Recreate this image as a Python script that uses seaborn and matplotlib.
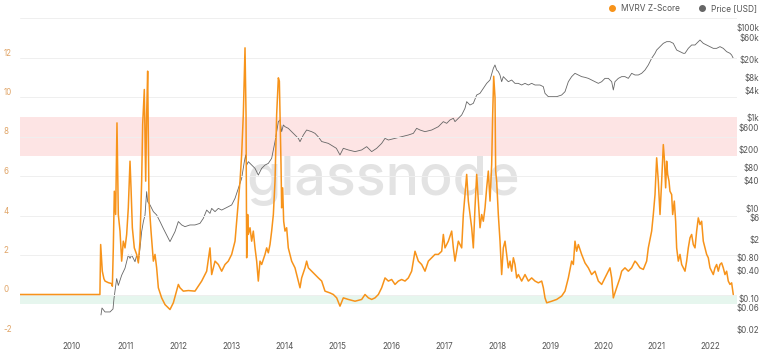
import seaborn as sns
import matplotlib.pyplot as plt
from matplotlib.lines import Line2D
from matplotlib.patches import Rectangle
from matplotlib.ticker import NullLocator
from matplotlib.transforms import blended_transform_factory


# MVRV Z-Score (decimal year, score)
mvrv_t = [
    2009.010, 2010.525, 2010.539, 2010.570, 2010.600, 2010.621, 2010.683, 2010.746, 2010.759, 2010.777,
    2010.796, 2010.821, 2010.846, 2010.871, 2010.903, 2010.934, 2010.965, 2010.997, 2011.028, 2011.059,
    2011.091, 2011.110, 2011.135, 2011.172, 2011.216, 2011.248, 2011.279, 2011.310, 2011.329, 2011.360,
    2011.386, 2011.404, 2011.423, 2011.448, 2011.486, 2011.530, 2011.561, 2011.592, 2011.624, 2011.686,
    2011.749, 2011.812, 2011.843, 2011.906, 2012.000, 2012.031, 2012.094, 2012.188, 2012.313, 2012.439,
    2012.533, 2012.595, 2012.627, 2012.690, 2012.752, 2012.815, 2012.878, 2012.940, 2013.003, 2013.066,
    2013.097, 2013.128, 2013.160, 2013.191, 2013.222, 2013.254, 2013.273, 2013.285, 2013.304, 2013.316,
    2013.348, 2013.379, 2013.410, 2013.442, 2013.473, 2013.504, 2013.536, 2013.567, 2013.630, 2013.661,
    2013.692, 2013.724, 2013.755, 2013.787, 2013.818, 2013.849, 2013.881, 2013.900, 2013.912, 2013.931,
    2013.943, 2013.962, 2013.981, 2014.006, 2014.037, 2014.068, 2014.100, 2014.131, 2014.194, 2014.257,
    2014.288, 2014.319, 2014.382, 2014.413, 2014.445, 2014.507, 2014.570, 2014.633, 2014.696, 2014.758,
    2014.852, 2014.915, 2014.978, 2015.040, 2015.103, 2015.197, 2015.323, 2015.448, 2015.511, 2015.574,
    2015.636, 2015.699, 2015.762, 2015.824, 2015.887, 2015.950, 2016.012, 2016.075, 2016.138, 2016.200,
    2016.263, 2016.326, 2016.388, 2016.451, 2016.514, 2016.576, 2016.639, 2016.702, 2016.765, 2016.827,
    2016.890, 2016.953, 2016.984, 2017.015, 2017.078, 2017.141, 2017.172, 2017.203, 2017.266, 2017.329,
    2017.360, 2017.391, 2017.423, 2017.454, 2017.485, 2017.517, 2017.548, 2017.579, 2017.611, 2017.642,
    2017.674, 2017.705, 2017.736, 2017.768, 2017.799, 2017.830, 2017.862, 2017.893, 2017.912, 2017.931,
    2017.956, 2017.968, 2017.987, 2018.018, 2018.050, 2018.081, 2018.112, 2018.144, 2018.175, 2018.206,
    2018.238, 2018.269, 2018.301, 2018.332, 2018.363, 2018.395, 2018.457, 2018.520, 2018.583, 2018.645,
    2018.708, 2018.771, 2018.834, 2018.865, 2018.896, 2018.928, 2019.022, 2019.116, 2019.209, 2019.272,
    2019.335, 2019.397, 2019.429, 2019.460, 2019.491, 2019.523, 2019.585, 2019.648, 2019.711, 2019.773,
    2019.836, 2019.899, 2019.962, 2020.024, 2020.087, 2020.118, 2020.150, 2020.181, 2020.243, 2020.306,
    2020.338, 2020.400, 2020.463, 2020.525, 2020.588, 2020.620, 2020.682, 2020.745, 2020.808, 2020.839,
    2020.902, 2020.933, 2020.965, 2020.996, 2021.027, 2021.059, 2021.090, 2021.121, 2021.140, 2021.165,
    2021.184, 2021.203, 2021.228, 2021.246, 2021.278, 2021.297, 2021.328, 2021.353, 2021.372, 2021.403,
    2021.435, 2021.466, 2021.497, 2021.529, 2021.560, 2021.591, 2021.623, 2021.654, 2021.685, 2021.717,
    2021.748, 2021.779, 2021.811, 2021.842, 2021.873, 2021.905, 2021.936, 2021.967, 2021.999, 2022.030,
    2022.061, 2022.093, 2022.124, 2022.155, 2022.187, 2022.218, 2022.249, 2022.281, 2022.312, 2022.343,
    2022.375, 2022.406, 2022.437,
]
mvrv_z = [
    0.00, 0.00, 2.53, 1.18, 0.80, 0.68, 0.60, 0.55, 0.42, 2.36,
    5.23, 4.05, 8.69, 4.05, 3.21, 1.69, 2.70, 2.36, 3.04, 4.39,
    6.75, 5.40, 3.38, 2.36, 2.03, 1.60, 2.70, 5.74, 8.61, 10.38,
    5.74, 9.11, 11.31, 4.73, 3.21, 1.69, 2.03, 1.35, 0.34, -0.17,
    -0.51, -0.68, -0.76, -0.42, 0.51, 0.34, 0.17, 0.20, 0.17, 0.68,
    1.18, 2.36, 1.01, 1.69, 1.52, 1.18, 1.52, 1.69, 2.03, 2.70,
    3.71, 4.73, 5.74, 7.09, 9.11, 12.49, 9.11, 1.86, 4.05, 3.04,
    3.38, 2.70, 3.21, 2.36, 1.69, 0.68, 1.69, 1.52, 2.03, 2.36,
    2.11, 2.53, 3.21, 4.05, 5.74, 9.11, 10.97, 10.80, 9.11, 6.58,
    4.39, 5.40, 3.71, 3.21, 3.38, 2.36, 2.03, 1.69, 1.35, 0.68,
    0.34, 0.84, 1.35, 1.69, 1.35, 1.18, 1.00, 0.84, 0.68, 0.17,
    0.08, 0.00, -0.17, -0.59, -0.17, -0.25, -0.34, -0.25, 0.00, -0.17,
    -0.25, -0.17, 0.00, 0.34, 0.84, 0.68, 0.76, 0.51, 0.68, 0.76,
    0.68, 0.84, 1.18, 2.19, 1.69, 1.52, 1.18, 1.69, 1.86, 2.03,
    2.03, 2.19, 3.04, 2.36, 2.70, 3.21, 2.36, 1.69, 2.70, 2.36,
    4.05, 5.06, 6.08, 4.73, 4.05, 3.38, 2.36, 4.39, 6.08, 4.73,
    3.38, 4.05, 3.71, 4.39, 5.40, 6.25, 4.73, 6.58, 9.11, 11.05,
    9.96, 6.25, 5.74, 4.05, 2.70, 1.01, 2.36, 2.70, 2.03, 1.35,
    1.69, 1.18, 1.86, 1.52, 0.84, 1.01, 0.68, 1.01, 0.68, 0.84,
    0.68, 0.59, 0.68, 0.34, -0.17, -0.42, -0.34, -0.25, -0.08, 0.17,
    0.84, 1.69, 1.52, 2.70, 2.19, 2.53, 2.03, 1.60, 1.35, 1.01,
    1.18, 0.68, 0.51, 0.84, 1.18, 1.35, 0.84, -0.17, 0.34, 0.84,
    1.18, 1.35, 1.18, 1.35, 1.69, 1.60, 1.35, 1.27, 1.69, 2.36,
    3.21, 4.05, 5.06, 6.92, 5.74, 4.05, 5.74, 7.59, 6.92, 5.40,
    6.75, 6.08, 5.74, 5.23, 5.06, 4.05, 4.73, 3.71, 2.36, 1.69,
    2.03, 1.52, 1.35, 1.18, 1.69, 2.36, 2.87, 3.04, 2.53, 2.36,
    3.21, 3.88, 3.54, 3.71, 2.70, 2.36, 2.03, 1.86, 1.35, 1.18,
    1.01, 1.35, 1.52, 1.18, 1.52, 1.60, 1.35, 1.01, 1.18, 0.68,
    0.51, 0.59, 0.00,
]

# BTC price in USD
price_t = [
    2010.545, 2010.564, 2010.621, 2010.715, 2010.771, 2010.790, 2010.840, 2010.871, 2010.934, 2010.997,
    2011.059, 2011.091, 2011.122, 2011.153, 2011.185, 2011.216, 2011.248, 2011.279, 2011.310, 2011.342,
    2011.373, 2011.404, 2011.423, 2011.467, 2011.530, 2011.592, 2011.655, 2011.718, 2011.780, 2011.843,
    2011.874, 2011.937, 2012.000, 2012.063, 2012.125, 2012.219, 2012.313, 2012.407, 2012.470, 2012.533,
    2012.595, 2012.627, 2012.690, 2012.752, 2012.815, 2012.878, 2012.940, 2013.003, 2013.066, 2013.128,
    2013.191, 2013.241, 2013.266, 2013.285, 2013.316, 2013.379, 2013.442, 2013.504, 2013.567, 2013.630,
    2013.692, 2013.755, 2013.818, 2013.881, 2013.912, 2013.943, 2013.975, 2014.006, 2014.068, 2014.131,
    2014.194, 2014.257, 2014.288, 2014.351, 2014.413, 2014.507, 2014.570, 2014.633, 2014.696, 2014.821,
    2014.972, 2015.040, 2015.103, 2015.197, 2015.323, 2015.448, 2015.542, 2015.636, 2015.730, 2015.824,
    2015.887, 2015.950, 2016.075, 2016.200, 2016.326, 2016.420, 2016.482, 2016.545, 2016.639, 2016.765,
    2016.890, 2016.984, 2017.047, 2017.109, 2017.172, 2017.203, 2017.266, 2017.329, 2017.391, 2017.423,
    2017.485, 2017.548, 2017.611, 2017.673, 2017.736, 2017.799, 2017.861, 2017.924, 2017.955, 2017.987,
    2018.018, 2018.049, 2018.081, 2018.112, 2018.143, 2018.206, 2018.269, 2018.331, 2018.394, 2018.457,
    2018.520, 2018.582, 2018.645, 2018.708, 2018.802, 2018.864, 2018.896, 2018.958, 2019.021, 2019.115,
    2019.209, 2019.272, 2019.335, 2019.397, 2019.460, 2019.523, 2019.585, 2019.648, 2019.711, 2019.773,
    2019.836, 2019.899, 2019.962, 2020.024, 2020.087, 2020.150, 2020.181, 2020.212, 2020.275, 2020.338,
    2020.400, 2020.463, 2020.526, 2020.588, 2020.651, 2020.714, 2020.777, 2020.839, 2020.902, 2020.965,
    2020.996, 2021.059, 2021.121, 2021.184, 2021.247, 2021.309, 2021.341, 2021.372, 2021.435, 2021.497,
    2021.529, 2021.591, 2021.654, 2021.717, 2021.779, 2021.811, 2021.873, 2021.936, 2021.999, 2022.061,
    2022.124, 2022.187, 2022.249, 2022.312, 2022.375, 2022.406, 2022.437,
]
price_usd = [
    0.042, 0.060, 0.049, 0.049, 0.057, 0.098, 0.27, 0.19, 0.32, 0.46,
    0.90, 0.76, 0.90, 0.76, 0.64, 0.90, 0.64, 1.27, 2.98, 4.97,
    6.98, 23.1, 13.8, 11.7, 8.3, 7.0, 5.0, 3.5, 2.5, 1.79,
    2.12, 2.98, 5.0, 4.2, 3.85, 4.2, 4.2, 4.56, 5.9, 9.0,
    7.6, 9.8, 8.3, 9.8, 9.0, 9.8, 10.7, 11.7, 16.4, 27.4,
    45.6, 107, 151, 90, 107, 90, 76, 54, 76, 90,
    98, 127, 298, 830, 904, 497, 699, 641, 589, 497,
    419, 353, 298, 419, 541, 497, 456, 380, 300, 273,
    212, 151, 212, 195, 179, 195, 231, 179, 212, 273,
    353, 324, 353, 385, 419, 456, 590, 541, 497, 541,
    641, 830, 761, 904, 984, 830, 984, 1167, 1641, 2307,
    1945, 2118, 3243, 3532, 4560, 5888, 6982, 12700, 15070, 11660,
    10720, 9030, 6410, 8300, 7600, 6410, 6980, 5888, 5888, 5410,
    5888, 5410, 5888, 5410, 5410, 4970, 3532, 2980, 2980, 2980,
    3243, 3846, 6410, 8300, 9840, 9030, 8300, 8000, 7600, 6980,
    6410, 5888, 6410, 7600, 7600, 6410, 4190, 6410, 7600, 8300,
    8300, 7600, 9840, 9030, 9030, 9840, 11660, 15070, 21200, 27400,
    32400, 38500, 45600, 49700, 49700, 45600, 38500, 32400, 29800, 27400,
    27400, 35300, 41900, 41900, 49700, 54100, 45600, 41900, 38500, 35300,
    35300, 38500, 35300, 29800, 27400, 25100, 21200,
]

years = list(range(2010, 2023))
z_ticks = [-2, 0, 2, 4, 6, 8, 10, 12, 14]
z_labels = ["-2", "0", "2", "4", "6", "8", "10", "12", ""]
price_ticks = [0.02, 0.06, 0.1, 0.4, 0.8, 2, 6, 10, 40, 80, 200, 600,
               1000, 4000, 8000, 20000, 60000, 100000]
price_labels = ["$0.02", "$0.06", "$0.10", "$0.40", "$0.80", "$2", "$6", "$10", "$40", "$80",
                "$200", "$600", "$1k", "$4k", "$8k", "$20k", "$60k", "$100k"]
bands = [(7, 9, "#fde4e4"), (-0.5, 0, "#e6f6ee")]

orange = "#f7931a"
grey = "#666666"

sns.set_theme(style="white")
plt.rcParams['font.family'] = ['Inter', 'DejaVu Sans']

fig = plt.figure(figsize=(7.68, 3.53), dpi=100)
fig.patch.set_facecolor("white")
ax = fig.add_axes([20 / 768, 1 - 334 / 353, 717 / 768, 316 / 353])
ax2 = ax.twinx()
ax.set_zorder(ax2.get_zorder() + 1)
ax.patch.set_visible(False)
ax2.patch.set_visible(False)

# watermark
fig.text(0.499, 1 - 195 / 353, "glassnode", fontsize=40, color="#e3e3e3",
         fontweight="medium", ha="center", va="baseline", zorder=-1)

ax.set_xlim(2009.022, 2022.507)
ax.set_ylim(-2, 14)

# zones sit under both lines: drawn on the lower axes in z-score units
band_tr = blended_transform_factory(ax2.transAxes, ax.transData)
for lo, hi, col in bands:
    ax2.add_patch(Rectangle((0, lo), 1, hi - lo, transform=band_tr,
                            facecolor=col, edgecolor="none", zorder=0))

# price on the log axis
sns.lineplot(x=price_t, y=price_usd, ax=ax2, color=grey, linewidth=0.6,
             estimator=None, sort=False, zorder=2)
ax2.set_yscale("log")
ax2.set_ylim(0.01585, 166800)
ax2.yaxis.set_minor_locator(NullLocator())
ax2.set_yticks(price_ticks)
ax2.set_yticklabels(price_labels)
ax2.tick_params(axis="y", length=0, pad=16, labelsize=5.8, labelcolor="#555555")
for lab in ax2.get_yticklabels():
    lab.set_ha("right")

# z-score
sns.lineplot(x=mvrv_t, y=mvrv_z, ax=ax, color=orange, linewidth=1.1,
             estimator=None, sort=False, zorder=3)

ax.set_yticks(z_ticks)
ax.set_yticklabels(z_labels)
ax.grid(axis="y", color="#efefef", linewidth=0.7)
ax.grid(axis="x", visible=False)
ax.tick_params(axis="y", length=0, pad=12, labelsize=5.8, labelcolor="#e0a466")
for lab in ax.get_yticklabels():
    lab.set_ha("left")
    lab.set_va("bottom")
ax.set_xticks(years)
ax.set_xticklabels([str(y) for y in years])
ax.tick_params(axis="x", length=0, pad=5.5, labelsize=5.8, labelcolor="#555555")
ax.set_xlabel("")
ax.set_ylabel("")
ax2.set_ylabel("")
for a in (ax, ax2):
    for s in a.spines.values():
        s.set_visible(False)

handles = [Line2D([], [], marker="o", linestyle="", color=orange, markersize=4),
           Line2D([], [], marker="o", linestyle="", color=grey, markersize=4)]
fig.legend(handles, ["MVRV Z-Score", "Price [USD]"], loc="upper right",
           bbox_to_anchor=(757 / 768, 1 - 4 / 353), ncol=2, frameon=False,
           fontsize=6, handletextpad=0.1, columnspacing=1.6, borderpad=0,
           borderaxespad=0, labelcolor="#555555")

fig.savefig("out.png", dpi=100, facecolor="white")
